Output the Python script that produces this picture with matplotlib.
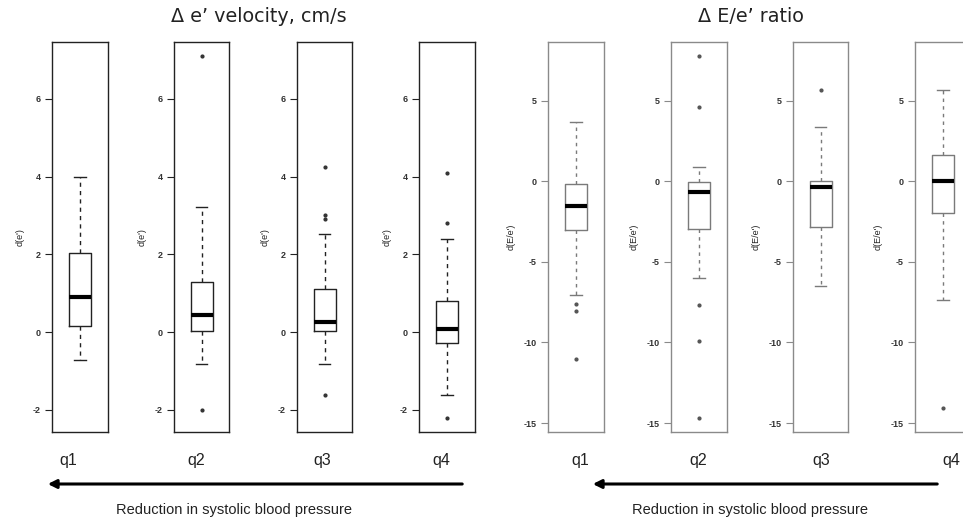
import matplotlib
matplotlib.use("Agg")
import matplotlib.pyplot as plt
from matplotlib.patches import FancyArrowPatch

# ---------------- data ----------------
groups = ["q1", "q2", "q3", "q4"]

# Delta e' velocity (cm/s)
ev_whislo = [-0.72, -0.83, -0.83, -1.63]
ev_q1 = [0.15, 0.03, 0.02, -0.27]
ev_med = [0.89, 0.43, 0.27, 0.08]
ev_q3 = [2.04, 1.30, 1.10, 0.81]
ev_whishi = [4.00, 3.21, 2.53, 2.40]
ev_fliers = [[], [7.09, -2.01], [4.25, 3.00, 2.90, -1.63], [4.08, 2.80, -2.20]]

# Delta E/e' ratio
ee_whislo = [-7.05, -6.02, -6.47, -7.36]
ee_q1 = [-3.03, -2.97, -2.83, -1.98]
ee_med = [-1.55, -0.64, -0.35, 0.0]
ee_q3 = [-0.19, -0.02, 0.02, 1.63]
ee_whishi = [3.67, 0.91, 3.38, 5.65]
ee_fliers = [[-7.63, -8.06, -11.05], [7.75, 4.64, -7.65, -9.91, -14.66], [5.69], [-14.04]]

ev_ticks = [-2, 0, 2, 4, 6]
ee_ticks = [-15, -10, -5, 0, 5]

title_left = "Δ e’ velocity, cm/s"
title_right = "Δ E/e’ ratio"
ylabel_left = "d(e')"
ylabel_right = "d(E/e')"
caption = "Reduction in systolic blood pressure"

# ---------------- layout ----------------
W, H = 963, 522
fig = plt.figure(figsize=(W / 100, H / 100), dpi=100)

left_x = [(52, 108), (174, 229), (297, 352), (419, 475)]
right_x = [(548, 604), (671, 727), (793, 848), (915, 971)]
top_px, bot_px = 42, 432
label_centers_left = [68, 196, 322, 441]
label_centers_right = [580, 698, 821, 951]


def make_axes(xr):
    x0, x1 = xr
    return fig.add_axes([x0 / W, 1 - bot_px / H, (x1 - x0) / W, (bot_px - top_px) / H])


def draw_panel(xpos, whislo, q1, med, q3, whishi, fliers, ticks, ylab, framecol, boxcol, wls, fcol, lab_centers):
    allv = [v for f in fliers for v in f] + list(whislo) + list(whishi)
    lo, hi = min(allv), max(allv)
    pad = 0.04 * (hi - lo)
    for i, xr in enumerate(xpos):
        ax = make_axes(xr)
        stats = [dict(med=med[i], q1=q1[i], q3=q3[i], whislo=whislo[i], whishi=whishi[i],
                      fliers=fliers[i], label=groups[i])]
        ax.bxp(stats, positions=[1], widths=0.4, capwidths=0.2, showfliers=True,
               boxprops=dict(color=boxcol, linewidth=1.0),
               whiskerprops=dict(color=boxcol, linewidth=1.0, linestyle=wls),
               capprops=dict(color=boxcol, linewidth=1.0),
               medianprops=dict(color="black", linewidth=3.0, solid_capstyle="butt"),
               flierprops=dict(marker="o", markersize=2.0, markerfacecolor=fcol,
                               markeredgecolor=fcol, linestyle="none"))
        ax.set_xlim(0.5, 1.5)
        ax.set_ylim(lo - pad, hi + pad)
        ax.set_xticks([])
        ax.set_yticks(ticks)
        ax.set_yticklabels([str(t) for t in ticks])
        ax.tick_params(axis="y", length=5, width=0.8, color=framecol, labelsize=6.5,
                       labelcolor="#333333", pad=3)
        for lbl in ax.get_yticklabels():
            lbl.set_fontweight("bold")
            lbl.set_family("Liberation Sans")
        for sp in ax.spines.values():
            sp.set_color(framecol)
            sp.set_linewidth(1.0)
        ax.set_ylabel(ylab, fontsize=6.5, family="Liberation Sans", labelpad=6, color="#222222")
        fig.text(lab_centers[i] / W, 1 - 460 / H, groups[i], ha="center", va="center",
                 fontsize=11.5, family="Liberation Sans", color="#222222")


draw_panel(left_x, ev_whislo, ev_q1, ev_med, ev_q3, ev_whishi, ev_fliers, ev_ticks,
           ylabel_left, "#222222", "#222222", (0, (3, 3)), "#333333", label_centers_left)
draw_panel(right_x, ee_whislo, ee_q1, ee_med, ee_q3, ee_whishi, ee_fliers, ee_ticks,
           ylabel_right, "#8a8a8a", "#7a7a7a", (0, (2.5, 3)), "#555555", label_centers_right)

# titles
fig.text(259 / W, 1 - 17 / H, title_left, ha="center", va="center", fontsize=13.8,
         family="DejaVu Sans", color="#222222")
fig.text(751 / W, 1 - 17 / H, title_right, ha="center", va="center", fontsize=13.8,
         family="DejaVu Sans", color="#222222")

# arrows
for (x_tail, x_head) in [(465, 45), (940, 590)]:
    arr = FancyArrowPatch((x_tail / W, 1 - 484 / H), (x_head / W, 1 - 484 / H),
                          transform=fig.transFigure, arrowstyle="-|>,head_length=5,head_width=2.5",
                          color="black", linewidth=2.2, mutation_scale=1)
    fig.patches.append(arr)

fig.text(234 / W, 1 - 510 / H, caption, ha="center", va="center", fontsize=10.5,
         family="Liberation Sans", color="#222222")
fig.text(750 / W, 1 - 510 / H, caption, ha="center", va="center", fontsize=10.5,
         family="Liberation Sans", color="#222222")

fig.savefig("out.png", dpi=100)
